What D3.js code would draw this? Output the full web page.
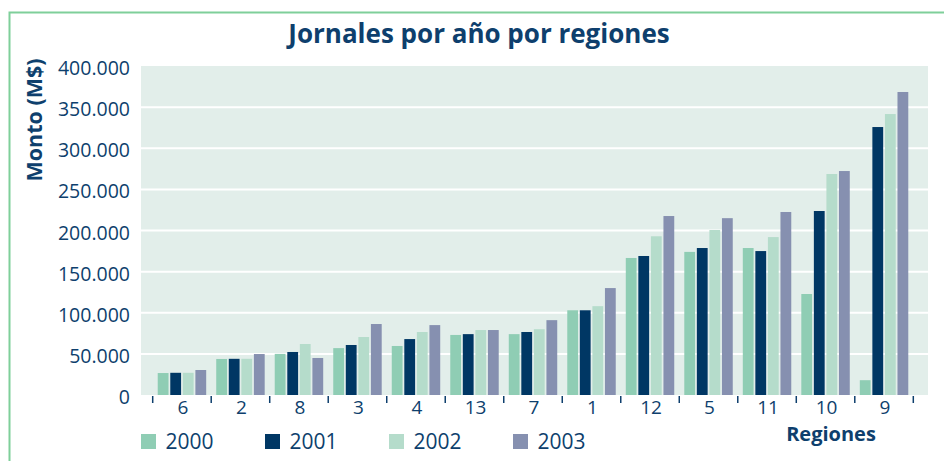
<!DOCTYPE html>
<html><head><meta charset="utf-8">
<script src="https://cdn.jsdelivr.net/npm/d3@7"></script>
<style>body{margin:0;background:#fff}svg{display:block}text{font-family:"Open Sans",sans-serif;fill:#0e3f6d}</style>
</head><body><svg id="c" width="944" height="461"></svg>
<script>
const regions = ["6","2","8","3","4","13","7","1","12","5","11","10","9"];
const years = ["2000","2001","2002","2003"];
const v2000 = [26.7,43.8,50,57,59.6,73,74,103,166.6,174,178.7,122.8,18].map(d=>d*1000);
const v2001 = [27,44,52.3,60.8,68,74,76.6,103,169,178.7,175,223.7,325.8].map(d=>d*1000);
const v2002 = [27,44,62,70.5,76.6,79,80,108,193,200.6,192,268.7,341.6].map(d=>d*1000);
const v2003 = [30.4,49.8,45,86.3,85,79,91,130,217.6,215,222.5,272.3,368.4].map(d=>d*1000);
const yTicks = [0,50000,100000,150000,200000,250000,300000,350000,400000];
const colors = ["#8fcdb4","#003764","#b5dccb","#8690b0"];
const series = [v2000,v2001,v2002,v2003];

const svg = d3.select("#c");
const plot = {x0:141, x1:928, y0:66, y1:395};
svg.append("rect").attr("x",9.5).attr("y",12.5).attr("width",960).attr("height",480)
  .attr("fill","none").attr("stroke","#7fcf9a").attr("stroke-width",2);

const y = d3.scaleLinear().domain([0,400000]).range([plot.y1,plot.y0]);
const x = d3.scaleBand().domain(regions).range([152.7,913.3]).paddingInner(0).paddingOuter(0);
const xs = d3.scaleBand().domain(years).range([0,x.bandwidth()]).paddingInner(0.14).paddingOuter(0.4);

svg.append("rect").attr("x",plot.x0).attr("y",plot.y0).attr("width",plot.x1-plot.x0).attr("height",plot.y1-plot.y0).attr("fill","#e2eeea");
svg.append("g").selectAll("line").data(yTicks.slice(1,-1)).join("line")
  .attr("x1",plot.x0).attr("x2",plot.x1).attr("y1",d=>y(d)).attr("y2",d=>y(d))
  .attr("stroke","#fff").attr("stroke-width",2);

const fmt = d => d===0 ? "0" : d3.format(",")(d).replace(/,/g,".");
svg.append("g").selectAll("text").data(yTicks).join("text")
  .attr("x",130).attr("y",d=>y(d)+9).attr("text-anchor","end").attr("font-size",19.5).text(fmt);

const g = svg.append("g");
regions.forEach((r,i)=>{
  series.forEach((s,j)=>{
    g.append("rect").attr("x",x(r)+xs(years[j])).attr("width",xs.bandwidth())
      .attr("y",y(s[i])).attr("height",y(0)-y(s[i])).attr("fill",colors[j]);
  });
});

const tickPos = regions.map(r=>x(r)).concat([x.range()[1]]);
svg.append("g").selectAll("line").data(tickPos).join("line")
  .attr("x1",d=>d).attr("x2",d=>d).attr("y1",396).attr("y2",403)
  .attr("stroke","#0e3f6d").attr("stroke-width",1.5);
svg.append("g").selectAll("text").data(regions).join("text")
  .attr("x",d=>x(d)+x.bandwidth()/2+1).attr("y",414).attr("text-anchor","middle").attr("font-size",19).text(d=>d);

svg.append("text").attr("x",479).attr("y",43).attr("text-anchor","middle").attr("font-size",26).attr("font-weight","bold").text("Jornales por año por regiones");
svg.append("text").attr("transform","translate(42,120) rotate(-90)").attr("text-anchor","middle").attr("font-size",21.5).attr("font-weight","bold").text("Monto (M$)");
svg.append("text").attr("x",831).attr("y",441).attr("text-anchor","middle").attr("font-size",20).attr("font-weight","bold").text("Regiones");

const leg = svg.append("g").selectAll("g").data(years).join("g").attr("transform",(d,i)=>`translate(${141+i*124},434)`);
leg.append("rect").attr("width",15).attr("height",15).attr("fill",(d,i)=>colors[i]);
leg.append("text").attr("x",24.5).attr("y",14.5).attr("font-size",21).text(d=>d);
</script></body></html>
